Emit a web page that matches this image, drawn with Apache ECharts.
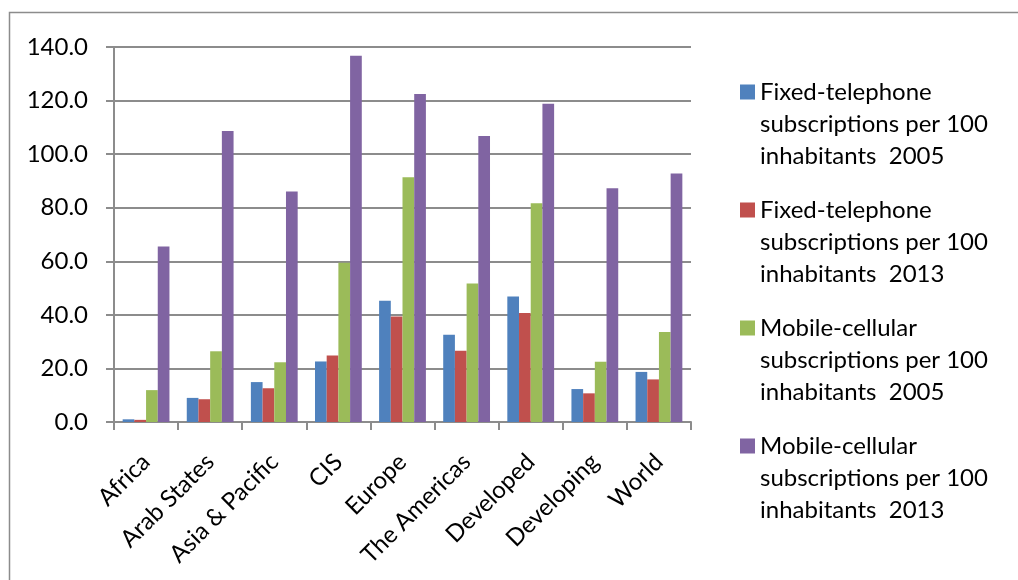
<!DOCTYPE html>
<html>
<head>
<meta charset="utf-8">
<script src="https://cdn.jsdelivr.net/npm/echarts@6/dist/echarts.min.js"></script>
<style>
  html, body { margin: 0; padding: 0; background: #ffffff; }
  #chart { width: 1018px; height: 580px; }
</style>
</head>
<body>
<div id="chart"></div>
<script>
// Regions / groupings on the category axis
const regions = ['Africa', 'Arab States', 'Asia & Pacific', 'CIS', 'Europe',
                 'The Americas', 'Developed', 'Developing', 'World'];

// Subscriptions per 100 inhabitants
const fixed2005  = [1.0, 9.0, 14.9, 22.6, 45.3, 32.6, 46.9, 12.3, 18.7];
const fixed2013  = [0.8, 8.5, 12.6, 24.8, 39.4, 26.6, 40.7, 10.7, 15.9];
const mobile2005 = [11.9, 26.4, 22.3, 59.5, 91.4, 51.7, 81.7, 22.5, 33.6];
const mobile2013 = [65.5, 108.6, 86.1, 136.7, 122.5, 106.8, 118.8, 87.3, 92.8];

// Series names (legend wraps them onto three lines)
const seriesNames = [
  'Fixed-telephone subscriptions per 100 inhabitants  2005',
  'Fixed-telephone subscriptions per 100 inhabitants  2013',
  'Mobile-cellular subscriptions per 100 inhabitants  2005',
  'Mobile-cellular subscriptions per 100 inhabitants  2013'
];
const seriesValues = [fixed2005, fixed2013, mobile2005, mobile2013];
const seriesColors = ['#4F81BD', '#C0504D', '#9BBB59', '#8064A2'];

// Y axis ticks
const yMin = 0, yMax = 140, yStep = 20;

const FONT = 'Lato, "Liberation Sans", sans-serif';
const FONT_SIZE = 24;
const LINE_H = 32;
const TEXT = '#000000';
const GRID = '#8c8c8c';

// Legend swatch: a 15px square sitting at the top of a taller (invisible) box,
// so that the swatch lines up with the first line of the wrapped label.
const SWATCH = 15;
const SWATCH_BOX_H = 2 * (SWATCH / 2 + LINE_H);   // 79
const swatchIcon = 'path://M0,0h' + SWATCH + 'v' + SWATCH + 'h-' + SWATCH + 'z' +
                   'M0,' + SWATCH_BOX_H + 'h' + SWATCH;

const chart = echarts.init(document.getElementById('chart'), null, { renderer: 'canvas' });

function wrapName(name) {
  // "Fixed-telephone\nsubscriptions per 100\ninhabitants  2005"
  const m = name.match(/^(\S+) (subscriptions per 100) (inhabitants\s+\d{4})$/);
  return m ? m[1] + '\n' + m[2] + '\n' + m[3] : name;
}

chart.setOption({
  backgroundColor: '#ffffff',
  animation: false,
  textStyle: { fontFamily: FONT },
  graphic: [{
    type: 'rect',
    silent: true,
    shape: { x: 9.5, y: 12.5, width: 1030, height: 600 },
    style: { fill: 'none', stroke: '#8c8c8c', lineWidth: 1.5 }
  }],
  grid: { left: 114, right: 327, top: 47, bottom: 158, containLabel: false },
  legend: {
    orient: 'vertical',
    left: 740,
    top: 76,
    padding: 0,
    itemWidth: SWATCH,
    itemHeight: SWATCH_BOX_H,
    itemGap: 22,
    icon: swatchIcon,
    data: seriesNames,
    formatter: wrapName,
    textStyle: {
      fontFamily: FONT,
      fontSize: FONT_SIZE,
      lineHeight: LINE_H,
      color: TEXT
    }
  },
  xAxis: {
    type: 'category',
    data: regions,
    boundaryGap: true,
    axisLine: { show: true, lineStyle: { color: GRID, width: 2 } },
    axisTick: { show: true, alignWithLabel: false, length: 8, lineStyle: { color: GRID, width: 2 } },
    axisLabel: {
      interval: 0,
      rotate: 45,
      margin: 36,
      fontFamily: FONT,
      fontSize: FONT_SIZE,
      color: TEXT
    },
    splitLine: { show: false }
  },
  yAxis: {
    type: 'value',
    min: yMin,
    max: yMax,
    interval: yStep,
    axisLine: { show: true, lineStyle: { color: GRID, width: 2 } },
    axisTick: { show: true, inside: false, length: 8, lineStyle: { color: GRID, width: 2 } },
    axisLabel: {
      margin: 26,
      fontFamily: FONT,
      fontSize: FONT_SIZE,
      color: TEXT,
      formatter: v => v.toFixed(1)
    },
    splitLine: { show: true, lineStyle: { color: GRID, width: 2 } }
  },
  series: seriesNames.map((name, i) => ({
    name: name,
    type: 'bar',
    data: seriesValues[i],
    barGap: '0%',
    barCategoryGap: '27%',
    itemStyle: { color: seriesColors[i] }
  }))
});
</script>
</body>
</html>
